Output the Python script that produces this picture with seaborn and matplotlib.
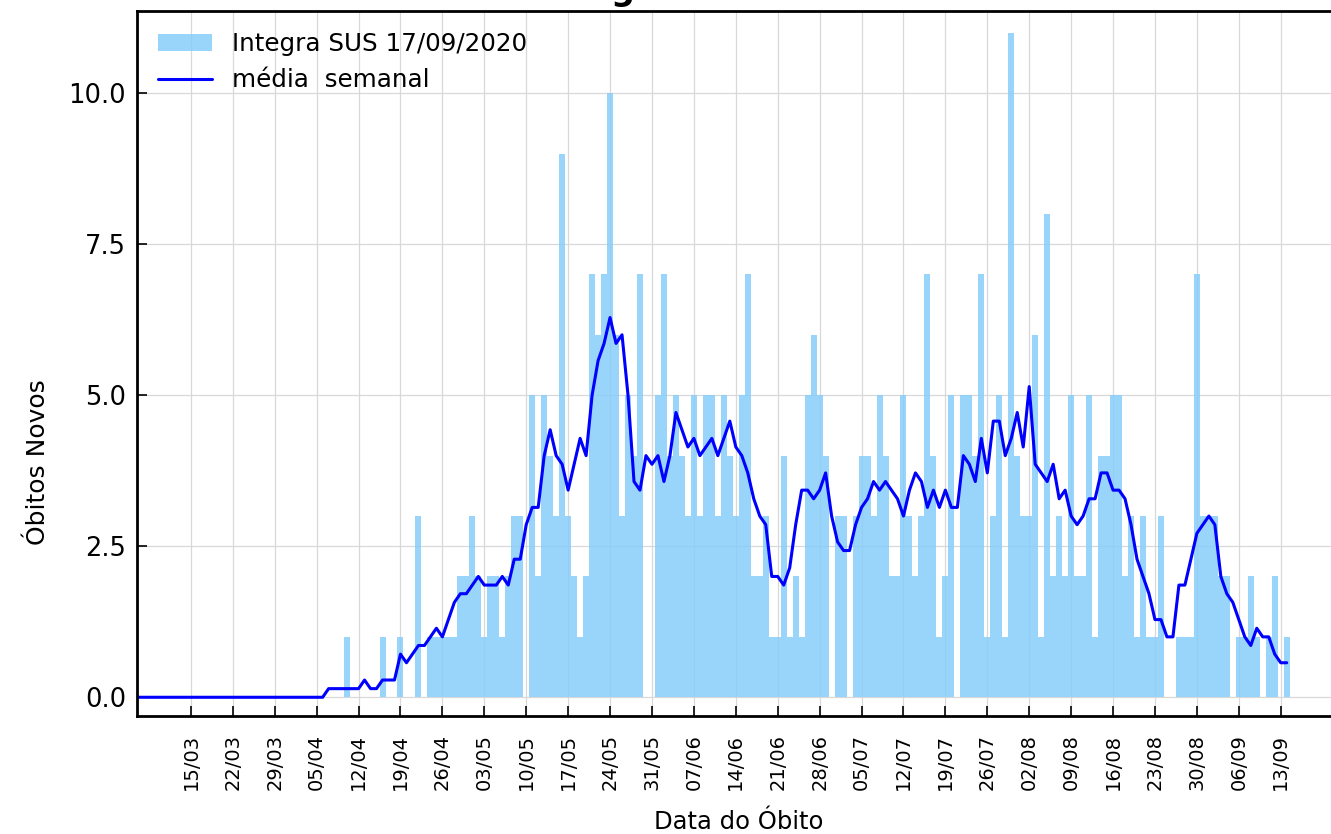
import pandas as pd
import matplotlib
matplotlib.use("Agg")
import matplotlib.pyplot as plt
import matplotlib.dates as mdates
import seaborn as sns

sns.set_theme(style="white")
plt.rcParams['font.family'] = ['DejaVu Sans']
plt.rcParams.update({'text.color': 'black', 'axes.labelcolor': 'black',
                     'xtick.color': 'black', 'ytick.color': 'black'})

# daily deaths (Integra SUS), 10/04/2020 .. 14/09/2020
obitos_inicio = '2020-04-10'
obitos = [1, 0, 0, 0, 0, 0, 1, 0, 0, 1,
          0, 0, 3, 0, 1, 1, 1, 1, 1, 2,
          2, 3, 2, 1, 2, 2, 1, 2, 3, 3,
          0, 5, 2, 5, 4, 3, 9, 3, 2, 1,
          2, 7, 6, 7, 10, 6, 3, 5, 4, 7,
          0, 0, 5, 7, 4, 5, 4, 3, 5, 3,
          5, 5, 3, 5, 4, 3, 5, 7, 2, 2,
          3, 1, 1, 4, 1, 2, 1, 5, 6, 5,
          4, 0, 3, 3, 0, 3, 4, 4, 3, 5,
          4, 2, 2, 5, 3, 2, 3, 7, 4, 1,
          2, 5, 0, 5, 5, 4, 7, 1, 3, 5,
          1, 11, 4, 3, 3, 6, 1, 8, 2, 3,
          2, 5, 2, 2, 5, 1, 4, 4, 5, 5,
          2, 3, 1, 3, 1, 1, 3, 0, 0, 1,
          1, 1, 7, 3, 3, 3, 2, 2, 0, 1,
          1, 2, 1, 0, 1, 2, 0, 1]

# full series period (zeros outside the reported days)
serie_inicio = '2020-03-03'
serie_fim = '2020-09-17'

tick_inicio = '2020-03-15'
tick_fim = '2020-09-13'

label_barras = 'Integra SUS 17/09/2020'
label_media = 'média  semanal'
titulo = 'Óbitos Novos Diários - Integra SUS'

s = pd.Series(obitos, index=pd.date_range(obitos_inicio, periods=len(obitos), freq='D'))
s = s.reindex(pd.date_range(serie_inicio, serie_fim, freq='D'), fill_value=0)
media = s.rolling(7, center=True).mean()

df = pd.DataFrame({'x': mdates.date2num(s.index), 'obitos': s.values, 'media': media.values})

W, H = 1331, 834
fig = plt.figure(figsize=(W / 100, H / 100), dpi=100)
ax = fig.add_axes([137 / W, 118 / H, 1203 / W, 705 / H])

sns.barplot(data=df, x='x', y='obitos', native_scale=True, width=1, color='lightskyblue',
            saturation=1, alpha=0.85, linewidth=0, errorbar=None, label=label_barras, ax=ax)
sns.lineplot(data=df.dropna(), x='x', y='media', color='blue', linewidth=2.2,
             label=label_media, ax=ax)

t0 = pd.Timestamp(tick_inicio)
ax.set_xlim(mdates.date2num(t0 - pd.Timedelta(days=9)), mdates.date2num(t0) + 191.9)
ax.set_ylim(-0.31, 11.36)
ticks = pd.date_range(tick_inicio, tick_fim, freq='7D')
ax.set_xticks(mdates.date2num(ticks))
ax.set_xticklabels([d.strftime('%d/%m') for d in ticks], rotation=90, fontsize=14)
ax.set_yticks([0, 2.5, 5, 7.5, 10])
ax.set_yticklabels(['0.0', '2.5', '5.0', '7.5', '10.0'], fontsize=18.5)

ax.grid(True, color='#d8d8d8', linewidth=0.9)
ax.tick_params(direction='in', length=7, width=1.2, bottom=True, left=True, pad=8)
ax.tick_params(axis='x', pad=13)
for sp in ax.spines.values():
    sp.set_color('black')
    sp.set_linewidth(2)

ax.set_xlabel('Data do Óbito', fontsize=17.5, labelpad=14)
ax.set_ylabel('Óbitos Novos', fontsize=18)
ax.yaxis.set_label_coords(-0.072, 0.36)

handles, labels = ax.get_legend_handles_labels()
order = [labels.index(label_barras), labels.index(label_media)]
ax.legend([handles[i] for i in order], [labels[i] for i in order], loc='upper left',
          frameon=False, fontsize=17.7, handlelength=2.2, borderaxespad=0.45)

# title sits above the picture, only the descender of the "g" shows
r = fig.canvas.get_renderer()
pre = fig.text(0, 0, titulo[:titulo.index('g')], fontsize=24, fontweight='bold')
w_pre = pre.get_window_extent(r).width
pre.remove()
fig.text((611 - w_pre) / W, 1.0, titulo, fontsize=24, fontweight='bold', va='baseline')

fig.savefig('out.png', dpi=100)
